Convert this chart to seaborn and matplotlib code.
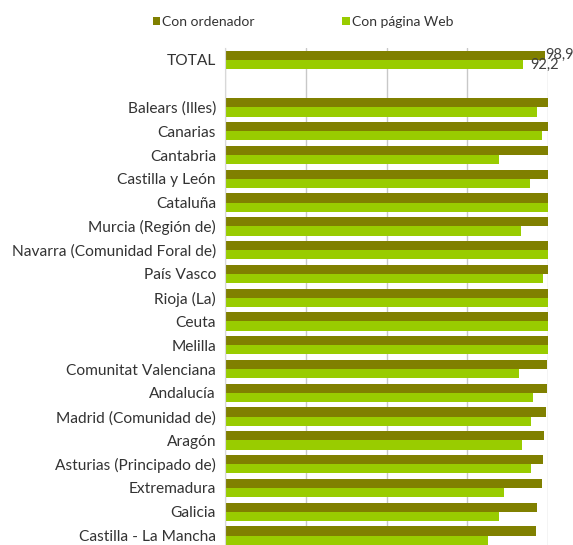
import numpy as np
import pandas as pd
import matplotlib
matplotlib.use("Agg")
import matplotlib.pyplot as plt
import seaborn as sns
from matplotlib.patches import Patch

categories = ["TOTAL", " ", "Balears (Illes)", "Canarias", "Cantabria", "Castilla y León",
              "Cataluña", "Murcia (Región de)", "Navarra (Comunidad Foral de)", "País Vasco",
              "Rioja (La)", "Ceuta", "Melilla", "Comunitat Valenciana", "Andalucía",
              "Madrid (Comunidad de)", "Aragón", "Asturias (Principado de)", "Extremadura",
              "Galicia", "Castilla - La Mancha"]
con_ordenador = [98.9, np.nan, 100, 100, 100, 100, 100, 100, 100, 100, 100, 100, 100,
                 99.6, 99.5, 99.2, 98.7, 98.3, 98.0, 96.6, 96.1]
con_web = [92.2, np.nan, 96.4, 98.2, 84.7, 94.3, 100, 91.5, 100, 98.5, 100, 100, 100,
           90.9, 95.3, 94.6, 91.9, 94.5, 86.3, 84.7, 81.3]
series = ["Con ordenador", "Con página Web"]
colors = ["#808000", "#99CC00"]

df = pd.DataFrame({
    "cat": categories * 2,
    "serie": [series[0]] * len(categories) + [series[1]] * len(categories),
    "val": con_ordenador + con_web,
})

sns.set_style("white")
plt.rcParams["font.family"] = ["Lato", "DejaVu Sans"]

fig = plt.figure(figsize=(5.73, 5.45), dpi=100)
ax = fig.add_axes([225 / 573, -2.4 / 545, (548.3 - 225) / 573, (547.4 - 48) / 545])

sns.barplot(data=df.dropna(), y="cat", x="val", hue="serie", order=categories,
            hue_order=series, palette=colors, width=0.77, errorbar=None,
            orient="h", ax=ax, legend=False, saturation=1, linewidth=0)

ax.set_xlim(0, 100)
ax.set_ylim(len(categories) - 0.5, -0.5)
ax.set_xticks([0, 25, 50, 75, 100])
ax.set_xticklabels([])
ax.grid(axis="x", color="#c8c8c8", linewidth=1)
ax.set_axisbelow(True)
for s in ["top", "right", "bottom"]:
    ax.spines[s].set_visible(False)
ax.spines["left"].set_color("#d8d8d8")
ax.set_xlabel("")
ax.set_ylabel("")
ax.tick_params(axis="y", length=0, pad=6.5, labelsize=11.2, labelcolor="#333333")
ax.tick_params(axis="x", length=0)

# data labels for TOTAL
ax.text(con_ordenador[0] + 0.3, 0 - 0.19, f"{con_ordenador[0]:.1f}".replace(".", ","),
        va="center", ha="left", fontsize=10.5, color="#404040", clip_on=False)
ax.text(con_web[0] + 2.2, 0 + 0.19, f"{con_web[0]:.1f}".replace(".", ","),
        va="center", ha="left", fontsize=10.5, color="#404040", clip_on=False)

handles = [Patch(facecolor=c, edgecolor="none") for c in colors]
fig.legend(handles, series, loc="center left", bbox_to_anchor=(140 / 573, 1 - 22 / 545),
           ncol=2, frameon=False, handlelength=0.55, handleheight=0.55, handletextpad=0.15,
           columnspacing=6.3, fontsize=10, labelcolor="#333333")

fig.savefig("out.png", dpi=100)
